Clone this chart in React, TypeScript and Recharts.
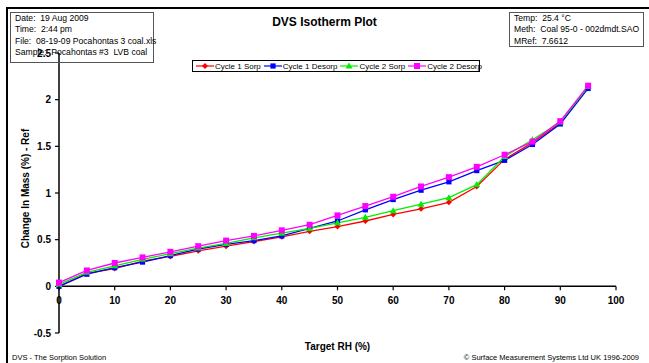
import React from "react";
import { LineChart, Line, XAxis, YAxis, ReferenceLine } from "recharts";

const rh = [0, 5, 10, 15, 20, 25, 30, 35, 40, 45, 50, 55, 60, 65, 70, 75, 80, 85, 90, 95];
const cycle1Sorp = [0.0, 0.14, 0.19, 0.27, 0.32, 0.38, 0.43, 0.48, 0.53, 0.59, 0.64, 0.7, 0.77, 0.83, 0.9, 1.07, 1.36, 1.54, 1.75, 2.14];
const cycle1Desorp = [0.0, 0.13, 0.2, 0.26, 0.33, 0.4, 0.45, 0.49, 0.54, 0.62, 0.7, 0.82, 0.93, 1.03, 1.12, 1.24, 1.35, 1.52, 1.74, 2.12];
const cycle2Sorp = [0.02, 0.15, 0.22, 0.29, 0.35, 0.41, 0.46, 0.52, 0.57, 0.62, 0.68, 0.74, 0.81, 0.88, 0.95, 1.09, 1.39, 1.57, 1.76, 2.14];
const cycle2Desorp = [0.04, 0.17, 0.25, 0.31, 0.37, 0.43, 0.49, 0.54, 0.6, 0.66, 0.76, 0.86, 0.96, 1.07, 1.17, 1.28, 1.41, 1.55, 1.77, 2.15];

const xTicks = [0, 10, 20, 30, 40, 50, 60, 70, 80, 90, 100];
const yTicks = [-0.5, 0, 0.5, 1, 1.5, 2, 2.5];

const infoLeft = ["Date:  19 Aug 2009", "Time:  2:44 pm", "File:  08-19-09 Pocahontas 3 coal.xls", "Sample:  Pocahontas #3  LVB coal"];
const infoRight = ["Temp:  25.4 °C", "Meth:  Coal 95-0 - 002dmdt.SAO", "MRef:  7.6612"];

const series = [
  { key: "c1s", name: "Cycle 1 Sorp", color: "#ff0000", shape: "diamond", values: cycle1Sorp },
  { key: "c1d", name: "Cycle 1 Desorp", color: "#0000ff", shape: "square", values: cycle1Desorp },
  { key: "c2s", name: "Cycle 2 Sorp", color: "#00ee00", shape: "triangle", values: cycle2Sorp },
  { key: "c2d", name: "Cycle 2 Desorp", color: "#ff00ff", shape: "bigsquare", values: cycle2Desorp },
];

const data = rh.map((r, i) => {
  const row: Record<string, number> = { rh: r };
  series.forEach((s) => (row[s.key] = s.values[i]));
  return row;
});

const FONT = "Arial, 'Liberation Sans', sans-serif";
const W = 649;
const H = 363;
const PLOT_TOP = 53;
const X_AXIS_H = 30;
const PLOT_H = H - PLOT_TOP - X_AXIS_H;
// distance from bottom of plot (-0.5) up to the zero line
const ZERO_OFFSET = (PLOT_H * 0.5) / 3;

function Marker({ cx, cy, shape, color }: any) {
  if (cx == null || cy == null) return null;
  if (shape === "diamond") {
    return <polygon points={`${cx},${cy - 3} ${cx + 3},${cy} ${cx},${cy + 3} ${cx - 3},${cy}`} fill={color} />;
  }
  if (shape === "triangle") {
    return <polygon points={`${cx},${cy - 3.5} ${cx + 3.5},${cy + 2.5} ${cx - 3.5},${cy + 2.5}`} fill={color} />;
  }
  const r = shape === "bigsquare" ? 3 : 2.6;
  return <rect x={cx - r} y={cy - r} width={r * 2} height={r * 2} fill={color} />;
}

function XTick({ x, y, payload }: any) {
  const y0 = y - ZERO_OFFSET;
  return (
    <g>
      <line x1={x} y1={y0} x2={x} y2={y0 + 4} stroke="#000" strokeWidth={1.2} />
      <text x={x} y={y0 + 18} textAnchor="middle" fontSize={10} fontWeight="bold" fill="#000" fontFamily={FONT}>
        {payload.value}
      </text>
    </g>
  );
}

function LegendIcon({ shape, color }: { shape: string; color: string }) {
  return (
    <svg width={18} height={10} style={{ display: "block" }}>
      <line x1={0} y1={5} x2={18} y2={5} stroke={color} strokeWidth={1.2} />
      <Marker cx={9} cy={5} shape={shape} color={color} />
    </svg>
  );
}

export default function App() {
  return (
    <div style={{ position: "absolute", left: 0, top: 0, width: W, height: H, fontFamily: FONT, background: "#fff", overflow: "hidden" }}>
      {/* outer frame */}
      <div style={{ position: "absolute", left: 6, top: 7, width: W, height: H, borderTop: "2px solid #000", borderLeft: "2px solid #000" }} />

      <LineChart width={W} height={H} data={data} margin={{ top: PLOT_TOP, right: 33, left: 9, bottom: 0 }} style={{ position: "absolute", left: 0, top: 0 }}>
        <XAxis
          dataKey="rh"
          type="number"
          domain={[0, 100]}
          ticks={xTicks}
          height={X_AXIS_H}
          axisLine={false}
          tickLine={false}
          tickSize={0}
          tickMargin={0}
          tick={<XTick />}
        />
        <YAxis
          type="number"
          domain={[-0.5, 2.5]}
          ticks={yTicks}
          width={50}
          axisLine={{ stroke: "#000", strokeWidth: 1.5 }}
          tickLine={{ stroke: "#000", strokeWidth: 1.2 }}
          tickSize={4}
          tickMargin={4}
          tick={{ fill: "#000", fontSize: 10, fontWeight: "bold", fontFamily: FONT }}
        />
        <ReferenceLine y={0} stroke="#000" strokeWidth={1.5} />
        {series.map((s) => (
          <Line
            key={s.key}
            dataKey={s.key}
            name={s.name}
            stroke={s.color}
            strokeWidth={1.3}
            isAnimationActive={false}
            dot={(p: any) => <Marker key={`${s.key}-${p.index}`} cx={p.cx} cy={p.cy} shape={s.shape} color={s.color} />}
          />
        ))}
      </LineChart>

      {/* title */}
      <div style={{ position: "absolute", left: 0, width: W, top: 15, textAlign: "center", fontSize: 12, fontWeight: "bold" }}>
        DVS Isotherm Plot
      </div>

      {/* info boxes */}
      <div style={{ position: "absolute", left: 10, top: 12, width: 144, height: 51, border: "1.5px solid #555", fontSize: 8.6, lineHeight: "11.3px", padding: "0 0 0 4px", boxSizing: "border-box", paddingTop: 0 }}>
        {infoLeft.map((t) => (
          <div key={t} style={{ whiteSpace: "pre" }}>{t}</div>
        ))}
      </div>
      <div style={{ position: "absolute", left: 509, top: 12, width: 135, height: 35, border: "1.5px solid #555", fontSize: 8.6, lineHeight: "11.3px", paddingLeft: 4, boxSizing: "border-box" }}>
        {infoRight.map((t) => (
          <div key={t} style={{ whiteSpace: "pre" }}>{t}</div>
        ))}
      </div>

      {/* legend */}
      <div style={{ position: "absolute", left: 192, top: 60, width: 288, height: 12, border: "1px solid #000", boxSizing: "border-box", display: "flex", alignItems: "center", paddingLeft: 3, fontSize: 8, gap: 2 }}>
        {series.map((s) => (
          <div key={s.key} style={{ display: "flex", alignItems: "center", marginRight: 1 }}>
            <LegendIcon shape={s.shape} color={s.color} />
            <span style={{ marginLeft: 1, whiteSpace: "nowrap" }}>{s.name}</span>
          </div>
        ))}
      </div>

      {/* axis titles */}
      <div style={{ position: "absolute", left: 59, width: 557, top: 341, textAlign: "center", fontSize: 10, fontWeight: "bold" }}>
        Target RH (%)
      </div>
      <div style={{ position: "absolute", left: 25, top: 190, width: 0, height: 0 }}>
        <div style={{ position: "absolute", left: -100, top: -7, width: 200, textAlign: "center", fontSize: 10, fontWeight: "bold", transform: "rotate(-90deg)", whiteSpace: "nowrap" }}>
          Change In Mass (%) - Ref
        </div>
      </div>

      {/* footer */}
      <div style={{ position: "absolute", left: 12, top: 353, fontSize: 7.5 }}>DVS - The Sorption Solution</div>
      <div style={{ position: "absolute", right: 10, top: 353, fontSize: 7.5 }}>© Surface Measurement Systems Ltd UK 1996-2009</div>
    </div>
  );
}
